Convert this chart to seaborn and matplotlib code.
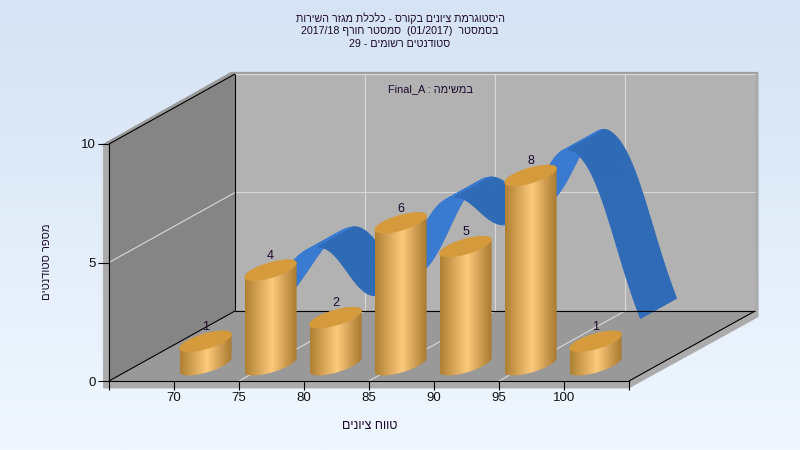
# Grade histogram, fake 3D cylinders with a spline ribbon behind them
import numpy as np
import pandas as pd
import matplotlib
matplotlib.use("Agg")
import matplotlib.pyplot as plt
import seaborn as sns
from matplotlib.bezier import BezierSegment
from matplotlib.colors import LinearSegmentedColormap
from matplotlib.patches import Polygon

# data
bins = [72.5, 77.5, 82.5, 87.5, 92.5, 97.5, 102.5]
counts = [1, 4, 2, 6, 5, 8, 1]
x_ticks = [65, 70, 75, 80, 85, 90, 95, 100, 105]
x_tick_labels = ["", "70", "75", "80", "85", "90", "95", "100", ""]
y_ticks = [0, 5, 10]
title_lines = [
    "היסטוגרמת ציונים בקורס - כלכלת מגזר השירות",
    "בסמסטר  (01/2017)  סמסטר חורף 2017/18",
    "סטודנטים רשומים - 29",
]
subtitle = "במשימה : Final_A"
x_title = "טווח ציונים"
y_title = "מספר סטודנטים"

sns.set_style("white")
plt.rcParams["font.family"] = ["Liberation Sans", "DejaVu Sans"]
TEXT = "#1c0a2c"

# depth of the box, in data units
DX = 126 / 13
DY = 70 / 23.7


def visual(s):
    # matplotlib has no bidi, so put the hebrew in display order
    out = []
    for word in s.split(" ")[::-1]:
        if any("\u0590" <= c <= "\u05ff" for c in word):
            word = word[::-1]
        out.append(word)
    return " ".join(out)


def poly(ax, pts, color, z, lw=0.3):
    ax.add_patch(Polygon(pts, closed=True, fc=color, ec=color, lw=lw, zorder=z, clip_on=False))


def line(ax, a, b, color="black", lw=0.8, z=3):
    ax.plot([a[0], b[0]], [a[1], b[1]], color=color, lw=lw, zorder=z, clip_on=False,
            solid_capstyle="butt")


fig = plt.figure(figsize=(8, 4.5), dpi=100)

# page gradient
bg = fig.add_axes([0, 0, 1, 1], zorder=-1)
bg_cmap = LinearSegmentedColormap.from_list("bg", ["#d5e3f4", "#f0f7ff"])
bg.imshow(np.linspace(0, 1, 256).reshape(-1, 1), aspect="auto", cmap=bg_cmap)
bg.axis("off")

ax = fig.add_axes([109 / 800, (450 - 381) / 450, 520 / 800, 237 / 450])
ax.patch.set_visible(False)

df = pd.DataFrame({"bin": bins, "count": counts})
sns.barplot(data=df, x="bin", y="count", native_scale=True, width=0.8, color="#d49a3c", ax=ax)
ax.set_xlim(65, 105)
ax.set_ylim(0, 10)

x0, x1 = 65, 105
# box frame strips
poly(ax, [(x0 - 0.45, -0.3), (x1, -0.3), (x1 + DX + 0.25, DY - 0.25), (x1 + DX + 0.25, 10 + DY + 0.05),
          (x1 + DX, 10 + DY + 0.05), (x1, 0), (x0, 0), (x0, 10), (x0 - 0.45, 10)], "#ababab", 0.5)
poly(ax, [(x0 - 0.45, 10), (x0 + DX - 0.3, 10 + DY + 0.08), (x1 + DX + 0.25, 10 + DY + 0.08),
          (x1 + DX, 10 + DY), (x0 + DX, 10 + DY), (x0, 10)], "#9a9a9a", 0.5)
# walls
poly(ax, [(x0 + DX, DY), (x1 + DX, DY), (x1 + DX, 10 + DY), (x0 + DX, 10 + DY)], "#b2b2b2", 0.6)
poly(ax, [(x0, 0), (x0 + DX, DY), (x0 + DX, 10 + DY), (x0, 10)], "#858585", 0.6)
poly(ax, [(x0, 0), (x1, 0), (x1 + DX, DY), (x0 + DX, DY)], "#999999", 0.6)

# grid
grid = "#d9d9d9"
for g in [75, 85, 95]:
    line(ax, (g, 0), (g + DX, DY), grid, 0.8, 0.8)
    line(ax, (g + DX, DY), (g + DX, 10 + DY), grid, 0.8, 0.8)
line(ax, (x0, 5), (x0 + DX, 5 + DY), grid, 0.8, 0.8)
line(ax, (x0 + DX, 5 + DY), (x1 + DX, 5 + DY), grid, 0.8, 0.8)
line(ax, (x0 + DX, 10 + DY), (x1 + DX, 10 + DY), grid, 0.8, 0.8)

# box edges
line(ax, (x0, 10), (x0 + DX, 10 + DY))
line(ax, (x0 + DX, 10 + DY), (x0 + DX, DY))
line(ax, (x0, 0), (x0 + DX, DY))
line(ax, (x0 + DX, DY), (x1 + DX, DY))
line(ax, (x1, 0), (x1 + DX, DY))

# ribbon: spline through the counts, front and back edge shifted into the box
FRONT = np.array([44 / 13, 39 / 23.7])
BACK = np.array([80 / 13, 59 / 23.7])
pts = np.column_stack([bins, counts]).astype(float)
tang = np.gradient(pts, axis=0) * 1.2
curve = []
for i in range(len(pts) - 1):
    seg = BezierSegment(np.array([pts[i], pts[i] + tang[i] / 3, pts[i + 1] - tang[i + 1] / 3, pts[i + 1]]))
    curve.append(seg.point_at_t(np.linspace(0, 1, 40, endpoint=False)))
curve.append(pts[-1:])
curve = np.vstack(curve)
for a, b in zip(curve[:-1], curve[1:]):
    col = "#3a7bd2" if b[1] > a[1] else "#2f6bb6"
    poly(ax, [a + FRONT, b + FRONT, b + BACK, a + BACK], col, 1, lw=0.8)

# cylinders on top of the seaborn bars
bar_cmap = LinearSegmentedColormap.from_list(
    "bar", [(0, "#b08034"), (0.52, "#fdca7c"), (1, "#a97a30")])
BASE = 16 / 23.7
SHEAR = 7 / 23.7
MINOR = 7.8 / 23.7
for k, p in enumerate(ax.patches[:len(bins)]):
    cx = p.get_x() + p.get_width() / 2 - 0.07
    hw = p.get_width() / 2
    top = p.get_height() + BASE
    p.set_visible(False)
    t = np.linspace(0, 2 * np.pi, 120)
    ex = cx + hw * np.cos(t)
    ey = SHEAR * np.cos(t) + MINOR * np.sin(t)
    front = t >= np.pi
    body = np.vstack([
        np.column_stack([ex[front], BASE + ey[front]]),
        np.column_stack([ex[~front], top + ey[~front]]),
    ])
    clip = Polygon(body, closed=True, transform=ax.transData, fc="none", ec="none")
    ax.add_patch(clip)
    im = ax.imshow(np.linspace(0, 1, 64).reshape(1, -1), cmap=bar_cmap, aspect="auto",
                   extent=(cx - hw, cx + hw, 0, top + 1), zorder=4 + k * 0.1, clip_on=True,
                   interpolation="bilinear")
    im.set_clip_path(clip)
    poly(ax, np.column_stack([ex, top + ey]), "#d49a3c", 4.05 + k * 0.1)
    ax.text(cx, top + 0.6, str(counts[k]), ha="center", va="center", fontsize=9,
            color=TEXT, zorder=6, clip_on=False)

ax.set_xlim(65, 105)
ax.set_ylim(0, 10)
ax.set_aspect("auto")

# axes
sns.despine(ax=ax)
for s in ["left", "bottom"]:
    ax.spines[s].set_linewidth(0.8)
    ax.spines[s].set_color("black")
    ax.spines[s].set_zorder(3)
ax.set_xticks(x_ticks)
ax.set_xticklabels(x_tick_labels)
ax.set_yticks(y_ticks)
ax.tick_params(axis="x", bottom=True, length=6.5, width=0.8, pad=1.5, labelsize=9.5, color="black", labelcolor="#111111")
ax.tick_params(axis="y", left=True, length=8, width=0.8, pad=1.5, labelsize=9.5, color="black", labelcolor="#111111")
ax.set_xlabel("")
ax.set_ylabel("")

fig.text(370 / 800, 1 - 426 / 450, visual(x_title), ha="center", va="center", fontsize=9, color=TEXT)
fig.text(47 / 800, 1 - 262 / 450, visual(y_title), ha="center", va="center", rotation=90, fontsize=8, color=TEXT)
for y, s in zip([18, 31, 44], title_lines):
    fig.text(400 / 800, 1 - y / 450, visual(s), ha="center", va="center", fontsize=7.7, color=TEXT)
fig.text(431 / 800, 1 - 89 / 450, visual(subtitle), ha="center", va="center", fontsize=7.9, color=TEXT)

fig.savefig("out.png", dpi=100)
